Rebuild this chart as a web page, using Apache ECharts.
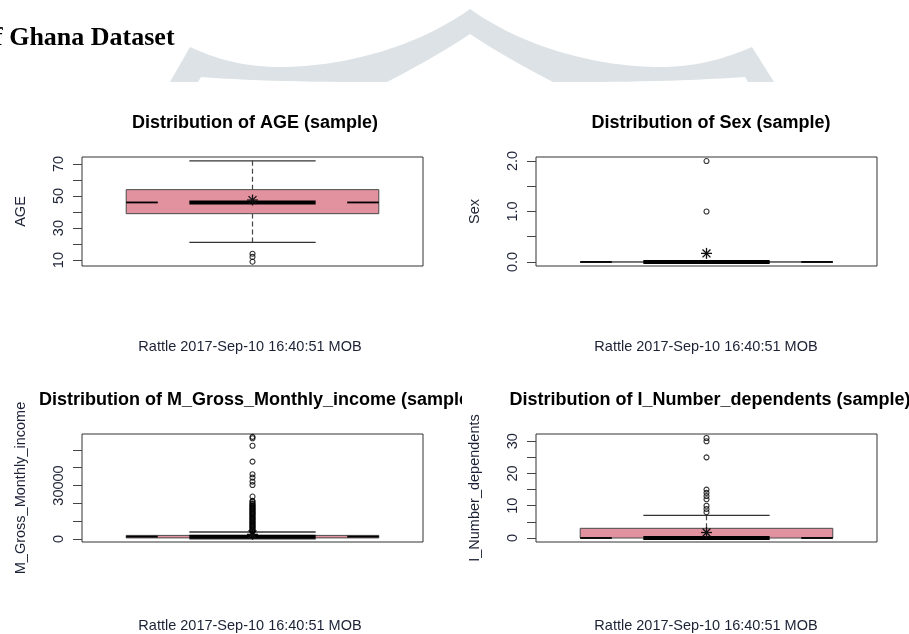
<!DOCTYPE html>
<html>
<head>
<meta charset="utf-8">
<script src="https://cdn.jsdelivr.net/npm/echarts@6/dist/echarts.min.js"></script>
<style>
html,body{margin:0;padding:0;background:#fff;}
#chart{width:909px;height:634px;}
</style>
</head>
<body>
<div id="chart"></div>
<script>
// ---------------- data ----------------
const headerText = 'of Ghana Dataset';
const panelTitles = [
  'Distribution of AGE (sample)',
  'Distribution of Sex (sample)',
  'Distribution of M_Gross_Monthly_income (sample',
  'Distribution of I_Number_dependents (sample)'
];
const yNames = ['AGE', 'Sex', 'M_Gross_Monthly_income', 'I_Number_dependents'];
const stampText = 'Rattle 2017-Sep-10 16:40:51 MOB';

// box stats: [lower whisker, Q1, median, Q3, upper whisker]
const ageBox = [21, 39, 46, 54, 72];
const ageMean = 47.5;
const ageOutliers = [14, 12, 9];

const sexBox = [0, 0, 0, 0, 0];
const sexMean = 0.17;
const sexOutliers = [1, 2];

const incomeBox = [0, 600, 1300, 2000, 3900];
const incomeMean = 2600;
const incomeOutliers = [57300, 56500, 52300, 43400, 36300, 34400, 32200, 30300, 23800,
  21400, 20900, 20000, 19600, 18900, 18500, 18000, 17400, 17000, 16500, 16000, 15400,
  15000, 14500, 14000, 13600, 13000, 12500, 12000, 11500, 11000, 10600, 10000, 9500,
  9000, 8600, 8000, 7500, 7000, 6600, 6000, 5500, 5000, 4600, 4200];

const depBox = [0, 0, 0, 3, 7];
const depMean = 1.7;
const depOutliers = [31, 30, 25, 15, 14, 13, 12, 10, 9, 8];

// axis ranges and ticks
const ageRange = [6.3, 74.4];
const ageTicks = [10, 20, 30, 40, 50, 60, 70];
const ageTickLabels = [10, 30, 50, 70];

const sexRange = [-0.08, 2.08];
const sexTicks = [0, 0.5, 1, 1.5, 2];
const sexTickLabels = [0, 1, 2];

const incomeRange = [-1700, 58900];
const incomeTicks = [0, 10000, 20000, 30000, 40000, 50000];
const incomeTickLabels = [0, 30000];

const depRange = [-1.24, 32.24];
const depTicks = [0, 5, 10, 15, 20, 25, 30];
const depTickLabels = [0, 10, 20, 30];

// ---------------- layout / style ----------------
const grids = [
  {left: 82, top: 157, width: 341, height: 109},
  {left: 536, top: 157, width: 341, height: 109},
  {left: 82, top: 434, width: 341, height: 108},
  {left: 536, top: 434, width: 341, height: 108}
];
const panels = [
  {box: ageBox, mean: ageMean, out: ageOutliers, range: ageRange, ticks: ageTicks, labels: ageTickLabels, fmt: v => String(v)},
  {box: sexBox, mean: sexMean, out: sexOutliers, range: sexRange, ticks: sexTicks, labels: sexTickLabels, fmt: v => Number(v).toFixed(1)},
  {box: incomeBox, mean: incomeMean, out: incomeOutliers, range: incomeRange, ticks: incomeTicks, labels: incomeTickLabels, fmt: v => String(v)},
  {box: depBox, mean: depMean, out: depOutliers, range: depRange, ticks: depTicks, labels: depTickLabels, fmt: v => String(v)}
];
const FONT = 'Liberation Sans, Arial, sans-serif';
const LABEL_COLOR = '#1c2235';
const PINK = '#E2919F';

function renderBox(params, api) {
  const x = api.value(0);
  const low = api.value(1), q1 = api.value(2), med = api.value(3), q3 = api.value(4), high = api.value(5), mean = api.value(6);
  const c = (dx, v) => api.coord([x + dx, v]);
  const line = (p1, p2, style) => ({type: 'line', shape: {x1: p1[0], y1: p1[1], x2: p2[0], y2: p2[1]}, style: style});
  const dash = {stroke: '#444', lineWidth: 1.2, lineDash: [5, 3]};
  const cap = {stroke: '#333', lineWidth: 1.3};
  const children = [];
  if (high > q3) children.push(line(c(0, q3), c(0, high), dash));
  if (low < q1) children.push(line(c(0, low), c(0, q1), dash));
  children.push(line(c(-0.2, high), c(0.2, high), cap));
  children.push(line(c(-0.2, low), c(0.2, low), cap));
  const tl = c(-0.4, q3), br = c(0.4, q1);
  children.push({type: 'rect', shape: {x: tl[0], y: tl[1], width: br[0] - tl[0], height: br[1] - tl[1]},
    style: {fill: PINK, stroke: '#4a4a4a', lineWidth: 1}});
  const thin = {stroke: '#000', lineWidth: 1.8};
  children.push(line(c(-0.4, med), c(-0.3, med), thin));
  children.push(line(c(0.3, med), c(0.4, med), thin));
  children.push(line(c(-0.2, med), c(0.2, med), {stroke: '#000', lineWidth: 4}));
  const m = c(0, mean);
  const r = 5.5, d = r * 0.72;
  const st = {stroke: '#111', lineWidth: 1.3};
  children.push(line([m[0], m[1] - r], [m[0], m[1] + r], st));
  children.push(line([m[0] - r, m[1]], [m[0] + r, m[1]], st));
  children.push(line([m[0] - d, m[1] - d], [m[0] + d, m[1] + d], st));
  children.push(line([m[0] - d, m[1] + d], [m[0] + d, m[1] - d], st));
  return {type: 'group', children: children};
}

const xAxes = [], yAxes = [], series = [], titles = [];
const titleCenters = [[250, 122], [706, 122], [249, 399], [705, 399]];
panels.forEach((p, i) => {
  xAxes.push({type: 'value', gridIndex: i, min: 0.46, max: 1.54, show: false});
  yAxes.push({
    type: 'value', gridIndex: i, min: p.range[0], max: p.range[1],
    name: yNames[i], nameLocation: 'middle', nameRotate: 90, nameGap: 54,
    nameTextStyle: {fontSize: 14.5, color: LABEL_COLOR, fontFamily: FONT},
    axisLine: {show: false}, splitLine: {show: false},
    axisTick: {show: true, inside: false, length: 9, customValues: p.ticks, lineStyle: {color: '#444', width: 1}},
    axisLabel: {customValues: p.labels, rotate: 90, margin: 16, fontSize: 14.5, color: LABEL_COLOR, fontFamily: FONT, formatter: p.fmt}
  });
  series.push({
    type: 'custom', xAxisIndex: i, yAxisIndex: i, renderItem: renderBox, silent: true, z: 3,
    data: [[1].concat(p.box, [p.mean])]
  });
  series.push({
    type: 'scatter', xAxisIndex: i, yAxisIndex: i, silent: true, z: 4,
    symbol: 'circle', symbolSize: 5,
    itemStyle: {color: 'rgba(0,0,0,0)', borderColor: '#000', borderWidth: 1.1},
    data: p.out.map(v => [1, v])
  });
  titles.push({
    text: panelTitles[i], left: titleCenters[i][0], top: titleCenters[i][1] - 12.5, textAlign: 'center',
    textStyle: {fontSize: 18, fontWeight: 'bold', color: '#000', fontFamily: FONT}
  });
});

// decorative watermark outline (background page artwork)
function bez(p0, p1, p2, p3, n) {
  const pts = [];
  for (let k = 1; k <= n; k++) {
    const t = k / n, u = 1 - t;
    pts.push([u*u*u*p0[0] + 3*u*u*t*p1[0] + 3*u*t*t*p2[0] + t*t*t*p3[0],
              u*u*u*p0[1] + 3*u*u*t*p1[1] + 3*u*t*t*p2[1] + t*t*t*p3[1]]);
  }
  return pts;
}
const wm = [[170, 82], [190, 47]];
wm.push(...bez([190, 47], [214, 58], [240, 66], [275, 67], 16));
wm.push(...bez([275, 67], [345, 68], [420, 45], [470, 9], 24));
wm.push(...bez([470, 9], [520, 45], [595, 68], [665, 67], 24));
wm.push(...bez([665, 67], [700, 66], [726, 58], [752, 47], 16));
wm.push([774, 82], [748, 82], [745, 77]);
wm.push(...bez([745, 77], [700, 80], [640, 82], [585, 82], 12));
wm.push([553, 82]);
wm.push(...bez([553, 82], [522, 66], [494, 50], [470, 34], 16));
wm.push(...bez([470, 34], [446, 50], [418, 66], [387, 82], 16));
wm.push([355, 82]);
wm.push(...bez([355, 82], [300, 82], [240, 80], [201, 77], 12));
wm.push([198, 82]);

const stampPos = [[250, 347], [706, 347], [250, 626], [706, 626]];
const graphics = [
  {type: 'polygon', z: -10, silent: true, shape: {points: wm}, style: {fill: '#DCE2E5'}},
  {
    type: 'text', left: -19, top: 25, z: 10, silent: true,
    style: {text: headerText, font: 'bold 26px "Liberation Serif", "Times New Roman", serif', fill: '#000'}
  },
  {type: 'rect', z: 100, silent: true, shape: {x: 462, y: 385, width: 40, height: 27}, style: {fill: '#fff'}}
];
stampPos.forEach(p => {
  graphics.push({
    type: 'text', x: p[0], y: p[1], z: 10, silent: true,
    style: {text: stampText, align: 'center', verticalAlign: 'middle', font: '14.5px ' + FONT, fill: LABEL_COLOR}
  });
});

const chart = echarts.init(document.getElementById('chart'), null, {renderer: 'canvas'});
chart.setOption({
  animation: false,
  backgroundColor: '#fff',
  title: titles,
  grid: grids.map(g => Object.assign({show: true, borderColor: '#333', borderWidth: 1, backgroundColor: 'rgba(0,0,0,0)'}, g)),
  xAxis: xAxes,
  yAxis: yAxes,
  series: series,
  graphic: graphics
});
</script>
</body>
</html>
